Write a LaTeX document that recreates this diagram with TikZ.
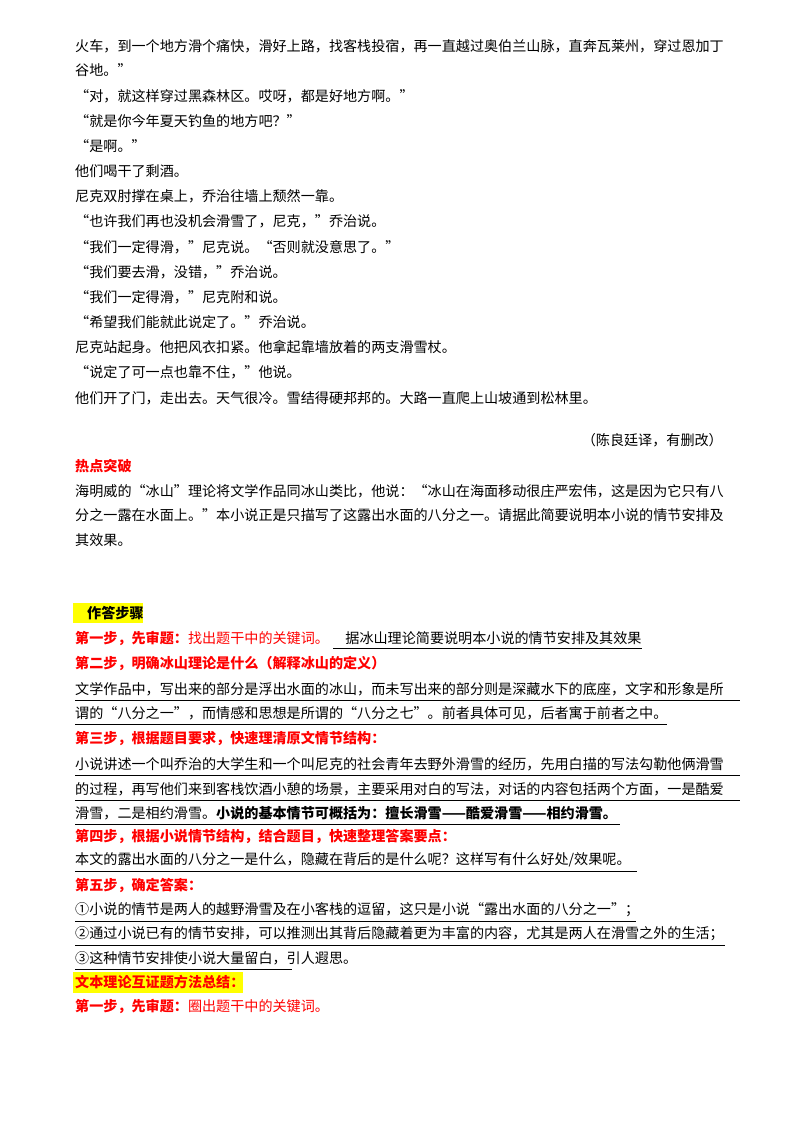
\documentclass[tikz,border=0pt]{standalone}
\usepackage{fontspec}
\setmainfont{Noto Sans CJK SC}
\definecolor{red1}{RGB}{255,0,0}
\definecolor{hl}{RGB}{255,255,0}
\begin{document}
\begin{tikzpicture}[x=1pt,y=-1pt,
  t/.style={anchor=west,inner sep=0pt,font=\fontsize{14.1}{14}\selectfont},
  r/.style={t,text=red1,font=\fontsize{14.1}{14}\selectfont\bfseries},
  ul/.style={line width=0.7pt}]
\useasboundingbox[fill=white] (0,0) rectangle (800,1132);
\fill[hl] (73,603) rectangle (143,623);
\fill[hl] (73,972) rectangle (243,993);
\node[t] (l1) at (75,46) {火车，到一个地方滑个痛快，滑好上路，找客栈投宿，再一直越过奥伯兰山脉，直奔瓦莱州，穿过恩加丁};
\node[t] (l2) at (75,70) {谷地。”};
\node[t] (l3) at (75,96) {“对，就这样穿过黑森林区。哎呀，都是好地方啊。”};
\node[t] (l4) at (75,121) {“就是你今年夏天钓鱼的地方吧？”};
\node[t] (l5) at (75,146) {“是啊。”};
\node[t] (l6) at (75,171) {他们喝干了剩酒。};
\node[t] (l7) at (75,196) {尼克双肘撑在桌上，乔治往墙上颓然一靠。};
\node[t] (l8) at (75,221) {“也许我们再也没机会滑雪了，尼克，”乔治说。};
\node[t] (l9) at (75,247) {“我们一定得滑，”尼克说。“否则就没意思了。”};
\node[t] (l10) at (75,272) {“我们要去滑，没错，”乔治说。};
\node[t] (l11) at (75,297) {“我们一定得滑，”尼克附和说。};
\node[t] (l12) at (75,322) {“希望我们能就此说定了。”乔治说。};
\node[t] (l13) at (75,347) {尼克站起身。他把风衣扣紧。他拿起靠墙放着的两支滑雪杖。};
\node[t] (l14) at (75,372) {“说定了可一点也靠不住，”他说。};
\node[t] (l15) at (75,398) {他们开了门，走出去。天气很冷。雪结得硬邦邦的。大路一直爬上山坡通到松林里。};
\node[t,anchor=east] (l16) at (723,440) {（陈良廷译，有删改）};
\node[r] (l17) at (75,466) {热点突破};
\node[t] (l18) at (75,491) {海明威的“冰山”理论将文学作品同冰山类比，他说：“冰山在海面移动很庄严宏伟，这是因为它只有八};
\node[t] (l19) at (75,515) {分之一露在水面上。”本小说正是只描写了这露出水面的八分之一。请据此简要说明本小说的情节安排及};
\node[t] (l20) at (75,540) {其效果。};
\node[t,font=\fontsize{14.1}{14}\selectfont\bfseries] (l21) at (87,613) {作答步骤};
\node[r] (l22) at (75,638) {第一步，先审题：\mdseries 找出题干中的关键词。};
\node[t,anchor=west] (l22b) at ([xshift=16pt]l22.east) {据冰山理论简要说明本小说的情节安排及其效果};
\node[r] (l23) at (75,663) {第二步，明确冰山理论是什么（解释冰山的定义）};
\node[t] (l24) at (75,689) {文学作品中，写出来的部分是浮出水面的冰山，而未写出来的部分则是深藏水下的底座，文字和形象是所};
\node[t] (l25) at (75,713) {谓的“八分之一”，而情感和思想是所谓的“八分之七”。前者具体可见，后者寓于前者之中。};
\node[r] (l26) at (75,738) {第三步，根据题目要求，快速理清原文情节结构：};
\node[t] (l27) at (75,764) {小说讲述一个叫乔治的大学生和一个叫尼克的社会青年去野外滑雪的经历，先用白描的写法勾勒他俩滑雪};
\node[t] (l28) at (75,789) {的过程，再写他们来到客栈饮酒小憩的场景，主要采用对白的写法，对话的内容包括两个方面，一是酷爱};
\node[t] (l29) at (75,813) {滑雪，二是相约滑雪。\bfseries 小说的基本情节可概括为：擅长滑雪——酷爱滑雪——相约滑雪。};
\node[r] (l30) at (75,836) {第四步，根据小说情节结构，结合题目，快速整理答案要点：};
\node[t] (l31) at (75,860) {本文的露出水面的八分之一是什么，隐藏在背后的是什么呢？这样写有什么好处/效果呢。};
\node[r] (l32) at (75,885) {第五步，确定答案：};
\node[t] (l33) at (75,910) {①小说的情节是两人的越野滑雪及在小客栈的逗留，这只是小说“露出水面的八分之一”；};
\node[t] (l34) at (75,934) {②通过小说已有的情节安排，可以推测出其背后隐藏着更为丰富的内容，尤其是两人在滑雪之外的生活；};
\node[t] (l35) at (75,958) {③这种情节安排使小说大量留白，引人遐思。};
\node[r] (l36) at (75,982) {文本理论互证题方法总结：};
\node[r] (l37) at (75,1006) {第一步，先审题：\mdseries 圈出题干中的关键词。};
\draw[ul] ([xshift=4pt,yshift=-10pt]l22.east) -- ([yshift=-10pt]l22b.east);
\draw[ul] (75,700) -- (740,700);
\draw[ul] (75,724) -- (667,724);
\draw[ul] (75,775) -- (740,775);
\draw[ul] (75,800) -- (740,800);
\draw[ul] (75,824) -- (620,824);
\draw[ul] (75,871) -- (637,871);
\draw[ul] (75,921) -- (636,921);
\draw[ul] (75,945) -- (725,945);
\draw[ul] (75,969) -- (292,969);
\end{tikzpicture}
\end{document}
